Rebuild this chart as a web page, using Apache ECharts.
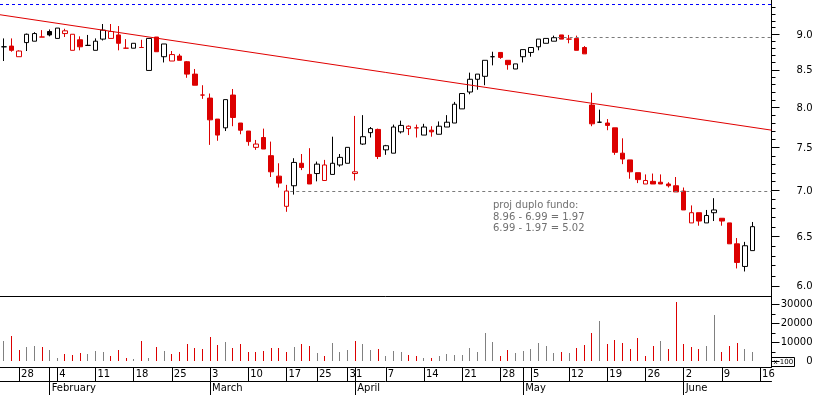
<!DOCTYPE html>
<html><head><meta charset="utf-8">
<script src="https://cdn.jsdelivr.net/npm/echarts@6/dist/echarts.min.js"></script>
<style>html,body{margin:0;padding:0;background:#fff}#c{width:817px;height:395px}</style>
</head><body><div id="c"></div>
<script>
const dates = [
 '2008-01-24','2008-01-25','2008-01-28','2008-01-29','2008-01-30','2008-01-31',
 '2008-02-01','2008-02-04','2008-02-05','2008-02-06','2008-02-07','2008-02-08',
 '2008-02-11','2008-02-12','2008-02-13','2008-02-14','2008-02-15',
 '2008-02-18','2008-02-19','2008-02-20','2008-02-21','2008-02-22',
 '2008-02-25','2008-02-26','2008-02-27','2008-02-28','2008-02-29',
 '2008-03-03','2008-03-04','2008-03-05','2008-03-06','2008-03-07',
 '2008-03-10','2008-03-11','2008-03-12','2008-03-13','2008-03-14',
 '2008-03-17','2008-03-18','2008-03-19','2008-03-20',
 '2008-03-25','2008-03-26','2008-03-27','2008-03-28','2008-03-31',
 '2008-04-01','2008-04-02','2008-04-03','2008-04-04',
 '2008-04-07','2008-04-08','2008-04-09','2008-04-10','2008-04-11',
 '2008-04-14','2008-04-15','2008-04-16','2008-04-17','2008-04-18',
 '2008-04-21','2008-04-22','2008-04-23','2008-04-24','2008-04-25',
 '2008-04-28','2008-04-29','2008-04-30','2008-05-02',
 '2008-05-05','2008-05-06','2008-05-07','2008-05-08','2008-05-09',
 '2008-05-12','2008-05-13','2008-05-14','2008-05-15','2008-05-16',
 '2008-05-19','2008-05-20','2008-05-21','2008-05-22','2008-05-23',
 '2008-05-26','2008-05-27','2008-05-28','2008-05-29','2008-05-30',
 '2008-06-02','2008-06-03','2008-06-04','2008-06-05','2008-06-06',
 '2008-06-09','2008-06-10','2008-06-11','2008-06-12','2008-06-13',
 '2008-06-16','2008-06-17'
];
const open = [8.82,8.83,8.68,8.88,8.90,8.96,9.04,8.94,9.01,8.77,
 8.92,8.84,8.77,8.93,8.94,8.99,8.80,8.80,8.81,8.49,
 8.96,8.68,8.62,8.69,8.61,8.44,8.16,8.12,7.85,7.74,
 8.16,7.80,7.70,7.50,7.62,7.40,7.16,6.82,7.05,7.31,
 7.18,7.19,7.11,7.18,7.29,7.31,7.19,7.54,7.68,7.72,
 7.47,7.43,7.69,7.73,7.74,7.65,7.71,7.66,7.75,7.80,
 7.98,8.20,8.37,8.41,8.68,8.74,8.63,8.51,8.68,8.74,
 8.82,8.87,8.90,8.99,8.93,8.94,8.81,8.03,7.81,7.80,
 7.74,7.43,7.35,7.20,7.07,7.10,7.09,7.07,7.05,6.99,
 6.64,6.75,6.64,6.75,6.69,6.64,6.42,6.19,6.35];
const close = [8.82,8.77,8.76,9.00,9.01,8.96,8.99,9.09,9.05,9.00,
 8.82,8.84,8.90,9.06,9.04,8.87,8.80,8.87,8.81,8.94,
 8.75,8.86,8.71,8.63,8.44,8.29,8.16,7.84,7.65,8.10,
 7.87,7.71,7.57,7.54,7.48,7.21,7.08,6.99,7.32,7.26,
 7.07,7.30,7.29,7.31,7.38,7.50,7.21,7.63,7.73,7.39,
 7.52,7.75,7.77,7.76,7.74,7.75,7.69,7.76,7.81,8.04,
 8.18,8.37,8.44,8.63,8.68,8.67,8.57,8.58,8.78,8.81,
 8.93,8.94,8.95,8.93,8.93,8.77,8.72,7.79,7.81,7.77,
 7.44,7.36,7.21,7.12,7.11,7.07,7.07,7.05,6.98,6.78,
 6.75,6.66,6.72,6.78,6.66,6.42,6.23,6.40,6.60];
const low = [8.62,8.75,8.68,8.76,8.90,8.96,8.97,8.94,8.96,8.77,
 8.77,8.84,8.77,8.91,8.94,8.77,8.80,8.80,8.81,8.49,
 8.75,8.60,8.62,8.63,8.39,8.29,8.11,7.53,7.58,7.70,
 7.76,7.66,7.52,7.47,7.48,7.15,7.03,6.76,6.95,7.23,
 7.07,7.10,7.11,7.18,7.27,7.31,7.11,7.53,7.62,7.36,
 7.41,7.43,7.67,7.65,7.62,7.65,7.63,7.66,7.75,7.80,
 7.98,8.17,8.23,8.29,8.56,8.65,8.50,8.51,8.60,8.68,
 8.77,8.87,8.90,8.93,8.87,8.77,8.72,7.76,7.80,7.71,
 7.41,7.30,7.13,7.08,7.07,7.07,7.07,7.03,6.98,6.78,
 6.64,6.61,6.64,6.66,6.61,6.42,6.17,6.14,6.35];
const high = [8.94,8.94,8.77,9.01,9.03,9.06,9.07,9.09,9.08,9.00,
 8.97,8.99,8.94,9.15,9.15,9.12,8.93,8.87,8.92,8.94,
 8.96,8.86,8.76,8.72,8.62,8.51,8.29,8.18,7.85,8.10,
 8.24,7.80,7.70,7.59,7.73,7.57,7.31,7.06,7.37,7.42,
 7.49,7.33,7.35,7.63,7.42,7.50,7.89,7.90,7.75,7.73,
 7.53,7.78,7.83,7.77,7.78,7.79,7.76,7.82,7.90,8.07,
 8.18,8.46,8.44,8.63,8.75,8.74,8.63,8.58,8.78,8.81,
 8.93,8.94,8.98,8.99,8.99,8.98,8.83,8.19,7.97,7.85,
 7.74,7.61,7.35,7.20,7.18,7.19,7.18,7.09,7.15,7.03,
 6.83,6.75,6.78,6.91,6.69,6.64,6.48,6.44,6.65];
const volume = [11050,13680,6140,7370,8250,7720,6140,2100,4040,3680,
 4560,4040,5610,5090,2980,6140,1930,1400,11050,1930,
 7720,5440,4040,5090,8950,7190,6670,12980,8770,10000,
 7190,9300,4740,5260,5610,7190,7190,5090,7720,9300,
 8250,4560,2980,9820,5090,6140,10880,9300,6140,6670,
 2980,5440,5090,3500,2980,1930,1930,2980,4040,3500,
 3500,7190,5090,14740,10000,2980,6140,4560,5610,6670,
 9820,8250,4560,5090,4560,7190,8770,14740,21400,9300,
 11400,9820,6670,12460,2980,8250,10880,6670,31400,9300,
 7720,6670,8250,24560,5090,8250,9820,6670,5090];

const priceMajorTicks = [6.0,6.5,7.0,7.5,8.0,8.5,9.0];
const priceTickLabels = ['6.0','6.5','7.0','7.5','8.0','8.5','9.0'];
const priceMinorTicks = [6.1,6.2,6.3,6.4,6.6,6.7,6.8,6.9,7.1,7.2,7.3,7.4,7.6,7.7,7.8,7.9,
 8.1,8.2,8.3,8.4,8.6,8.7,8.8,8.9,9.1,9.2,9.3,9.4];
const volumeTicks = [0,10000,20000,30000];
const volumeTickLabels = ['0','10000','20000','30000'];
const volumeMinorTicks = [5000,15000,25000];
const monthNames = ['January','February','March','April','May','June'];
const topLevel = 9.44;
const refLevels = [8.96, 6.99];
const refStartIdx = [73, 38];
const trendLine = [0, 9.279, 100, 7.718];
const noteLines = ['proj duplo fundo:', '8.96 - 6.99 = 1.97', '6.99 - 1.97 = 5.02'];

const RED = '#dc0000', BLACK = '#000000', GRAY = '#808080', DASHGRAY = '#7a7a7a', BLUE = '#0000ff';
const FONT = 'DejaVu Sans';

function candleColor(i){ if (i === 0) return BLACK; return close[i] <= close[i-1] ? RED : BLACK; }
function volColor(i){ if (i === 0) return GRAY; return close[i] < close[i-1] ? RED : GRAY; }
function parts(d){ const p = d.split('-'); return {y:+p[0], m:+p[1], d:+p[2], dow:new Date(Date.UTC(+p[0], +p[1]-1, +p[2])).getUTCDay()}; }
const info = dates.map(parts);
const isWeekStart = info.map((o,i)=> i>0 && o.dow <= info[i-1].dow);
const isMonthStart = info.map((o,i)=> i>0 && o.m !== info[i-1].m);

const candleData = open.map((o,i)=>{
  const c = candleColor(i);
  const hollow = close[i] > open[i];
  const fill = hollow ? '#ffffff' : c;
  return {value:[open[i], close[i], low[i], high[i]],
    itemStyle:{color:fill, color0:fill, borderColor:c, borderColor0:c, borderColorDoji:c, borderWidth:1}};
});
const volData = volume.map((v,i)=>[i, v]);

const chart = echarts.init(document.getElementById('c'), null, {renderer:'canvas'});
const option = {
  animation:false,
  backgroundColor:'#ffffff',
  grid:[
    {left:0, right:45.5, top:0, height:296},
    {left:0, right:45.5, top:296, bottom:28}
  ],
  xAxis:[
    {type:'category', gridIndex:0, data:dates, position:'bottom',
     axisLine:{show:true, onZero:false, lineStyle:{color:'#000', width:1}},
     axisTick:{show:false}, axisLabel:{show:false}, splitLine:{show:false}},
    {type:'category', gridIndex:1, data:dates, position:'bottom',
     axisLine:{show:true, onZero:false, lineStyle:{color:'#000', width:1}},
     axisTick:{show:true, alignWithLabel:true, length:14, interval:(idx)=>isWeekStart[idx], lineStyle:{color:'#000'}},
     axisLabel:{show:true, interval:(idx)=>isWeekStart[idx], formatter:(v)=>String(parts(v).d),
       align:'left', margin:2, padding:[0,0,0,2], fontFamily:FONT, fontSize:10, color:'#000'},
     splitLine:{show:false}},
    {type:'category', gridIndex:1, data:dates, position:'bottom',
     axisLine:{show:false, onZero:false},
     axisTick:{show:true, alignWithLabel:true, length:28, interval:(idx)=>isMonthStart[idx], lineStyle:{color:'#000'}},
     axisLabel:{show:true, interval:(idx)=>isMonthStart[idx], formatter:(v)=>monthNames[parts(v).m-1],
       align:'left', margin:16, padding:[0,0,0,2], fontFamily:FONT, fontSize:10, color:'#000'},
     splitLine:{show:false}},
    {type:'category', gridIndex:1, data:dates, position:'bottom', offset:14,
     axisLine:{show:true, onZero:false, lineStyle:{color:'#000', width:1}},
     axisTick:{show:false}, axisLabel:{show:false}, splitLine:{show:false}}
  ],
  yAxis:[
    {type:'log', gridIndex:0, position:'right', min:5.902, max:9.511, logBase:10,
     axisLine:{show:true, lineStyle:{color:'#000', width:1}},
     axisTick:{show:false}, axisLabel:{show:false}, splitLine:{show:false}, minorTick:{show:false}},
    {type:'value', gridIndex:1, position:'right', min:-2895, max:34474,
     axisLine:{show:true, lineStyle:{color:'#000', width:1}},
     axisTick:{show:true, length:8, inside:false, customValues:volumeTicks, lineStyle:{color:'#000'}},
     axisLabel:{show:true, customValues:volumeTicks,
       formatter:(v)=>volumeTickLabels[volumeTicks.indexOf(v)] || '',
       align:'right', margin:41, fontFamily:FONT, fontSize:10, color:'#000'},
     splitLine:{show:false}},
    {type:'value', gridIndex:1, position:'right', min:-2895, max:34474,
     axisLine:{show:false},
     axisTick:{show:true, length:4, inside:false, customValues:volumeMinorTicks, lineStyle:{color:'#000'}},
     axisLabel:{show:false}, splitLine:{show:false}}
  ],
  series:[
    {type:'candlestick', name:'price', xAxisIndex:0, yAxisIndex:0, barWidth:5, data:candleData, z:2,
     markLine:{silent:true, symbol:['none','none'], animation:false, z:8,
       label:{show:false}, emphasis:{disabled:true},
       lineStyle:{color:BLUE, width:1, type:[3,3], opacity:1},
       data:[{yAxis:topLevel, lineStyle:{color:BLUE, width:1, type:[3,3]}}]}},
    {type:'custom', name:'volume', xAxisIndex:1, yAxisIndex:1, silent:true, z:2,
     data:volData,
     renderItem:(params, api)=>{
       const i = params.dataIndex;
       const top = api.coord([api.value(0), api.value(1)]);
       const base = api.coord([api.value(0), 0]);
       const x = Math.floor(top[0]) + 0.5;
       return {type:'line', shape:{x1:x, y1:Math.round(base[1]), x2:x, y2:Math.round(top[1])},
         style:{stroke:volColor(i), lineWidth:1}};
     }},
    {type:'custom', name:'levels', xAxisIndex:0, yAxisIndex:0, silent:true, z:5,
     data: refLevels.map((v,k)=>[refStartIdx[k], v]),
     renderItem:(params, api)=>{
       const pt = api.coord([api.value(0), api.value(1)]);
       const band = api.size([1, 0])[0];
       const cs = params.coordSys;
       const y = Math.round(pt[1]) + 0.5;
       return {type:'line', shape:{x1:pt[0] - band/2, y1:y, x2:cs.x+cs.width, y2:y},
         style:{stroke:DASHGRAY, lineWidth:1, lineDash:[3,3]}};
     }},
    {type:'custom', name:'trend', xAxisIndex:0, yAxisIndex:0, silent:true, z:6,
     data:[trendLine],
     renderItem:(params, api)=>{
       const a = api.coord([api.value(0), api.value(1)]);
       const b = api.coord([api.value(2), api.value(3)]);
       const cs = params.coordSys;
       const s = (b[1]-a[1])/(b[0]-a[0]);
       const xl = cs.x, xr = cs.x + cs.width;
       return {type:'line', shape:{x1:xl, y1:a[1]+s*(xl-a[0]), x2:xr, y2:a[1]+s*(xr-a[0])},
         style:{stroke:'#e00000', lineWidth:1}};
     }},
    {type:'custom', name:'priceTicks', xAxisIndex:0, yAxisIndex:0, silent:true, clip:false, z:7,
     data: priceMajorTicks.map((v,k)=>[0, v, 1, k]).concat(priceMinorTicks.map(v=>[0, v, 0, -1])),
     renderItem:(params, api)=>{
       const y = api.coord([0, api.value(1)])[1];
       const cs = params.coordSys;
       const x0 = cs.x + cs.width;
       const major = params.dataIndex < priceMajorTicks.length;
       const yy = Math.round(y) + 0.5;
       const children = [{type:'line', shape:{x1:x0, y1:yy, x2:x0 + (major ? 8 : 4), y2:yy},
         style:{stroke:'#000', lineWidth:1}}];
       if (major) {
         children.push({type:'text', style:{text:priceTickLabels[params.dataIndex], x:x0 + 41, y:y + 1,
           align:'right', verticalAlign:'middle', fontFamily:FONT, fontSize:10, fill:'#000'}});
       }
       return {type:'group', children:children};
     }}
  ],
  graphic:[
    {type:'text', left:493, top:199.5, z:50, silent:true,
     style:{text:noteLines.join('\n'), fontFamily:FONT, fontSize:10, lineHeight:11.7, fill:'#707070'}},
    {type:'group', z:60, silent:true, children:[
      {type:'rect', shape:{x:771.5, y:357.5, width:23, height:9}, style:{fill:'#fff', stroke:'#000', lineWidth:1}},
      {type:'text', style:{text:'x 100', x:773.5, y:362.3, verticalAlign:'middle', fontFamily:FONT, fontSize:7, fill:'#000'}}
    ]}
  ]
};
chart.setOption(option);
</script>
</body></html>
